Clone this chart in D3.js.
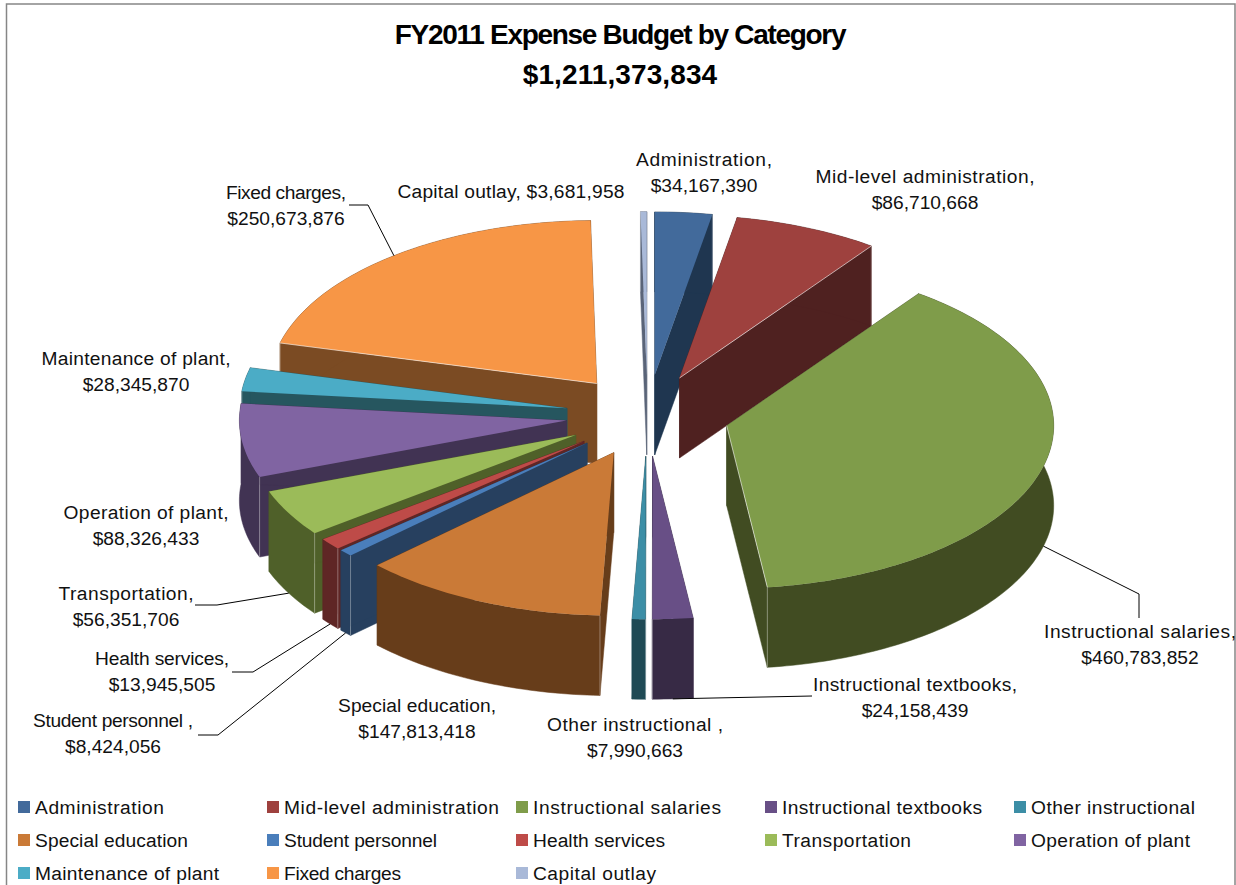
<!DOCTYPE html>
<html>
<head>
<meta charset="utf-8">
<script src="https://cdn.jsdelivr.net/npm/d3@7"></script>
<style>
  html, body { margin: 0; padding: 0; background: #fff; }
  svg { display: block; font-family: "Liberation Sans", Arial, sans-serif; }
</style>
</head>
<body>
<svg id="chart" width="1236" height="885"></svg>
<script>
"use strict";

// Budget data, clockwise from 12 o'clock
const categories = ["Administration", "Mid-level administration", "Instructional salaries",
  "Instructional textbooks", "Other instructional", "Special education", "Student personnel",
  "Health services", "Transportation", "Operation of plant", "Maintenance of plant",
  "Fixed charges", "Capital outlay"];
const amounts = [34167390, 86710668, 460783852, 24158439, 7990663, 147813418, 8424056,
  13945505, 56351706, 88326433, 28345870, 250673876, 3681958];

// Colours: top face and side wall of each slice
const topColors = ["#426a9b", "#9e413e", "#7f9c4a", "#684f86", "#3c8ea6", "#ca7a37", "#4a7ebb",
  "#be4b48", "#9bbb59", "#8064a2", "#4bacc6", "#f79646", "#a9b9d8"];
const wallColors = ["#1f3650", "#4f2120", "#414c22", "#372a45", "#1f4a55", "#673d1a", "#27405f",
  "#5f2625", "#4f6029", "#413353", "#26565f", "#7b4b23", "#5a6478"];

// Pie geometry
const cx = 647.5, cy = 415.5;   // common centre before the slices are pulled out
const rx = 327, ry = 163;       // tilted ellipse
const depth = 80;
const explode = 0.25;
const glintSlices = [1, 2, 11]; // these show a pale line on the front radial edge

const svg = d3.select("#chart");

// Chart frame
svg.append("rect")
  .attr("x", 6.5).attr("y", 4)
  .attr("width", 1228.5).attr("height", 890)
  .attr("fill", "#fff")
  .attr("stroke", "#868686")
  .attr("stroke-width", 1.5);

// Title
svg.append("text")
  .attr("x", 620).attr("y", 44)
  .attr("text-anchor", "middle")
  .style("font-size", "28px").style("font-weight", "bold")
  .style("letter-spacing", "-1.3px")
  .text("FY2011 Expense Budget by Category");
svg.append("text")
  .attr("x", 620).attr("y", 84)
  .attr("text-anchor", "middle")
  .style("font-size", "28px").style("font-weight", "bold")
  .style("letter-spacing", "0.1px")
  .text("$" + d3.format(",")(d3.sum(amounts)));

// Slices keep data order, d3.pie gives the angles
const pie = d3.pie().sort(null).value(d => d.value);
const slices = pie(categories.map((c, i) => ({ name: c, value: amounts[i], index: i })));

slices.forEach(s => {
  s.mid = (s.startAngle + s.endAngle) / 2;
  s.apex = [cx + explode * rx * Math.sin(s.mid), cy - explode * ry * Math.cos(s.mid)];
});

// Point on the rim of a slice's top face
function rim(s, a) {
  return [s.apex[0] + rx * Math.sin(a), s.apex[1] - ry * Math.cos(a)];
}

function rimPoints(s) {
  const n = Math.max(2, Math.ceil((s.endAngle - s.startAngle) / 0.02));
  return d3.range(n + 1).map(i => rim(s, s.startAngle + (s.endAngle - s.startAngle) * i / n));
}

const down = p => [p[0], p[1] + depth];
const line = d3.line();

// Back slices first, so nearer ones cover them
const drawOrder = slices.slice().sort((a, b) => a.apex[1] - b.apex[1]);
const gPie = svg.append("g");

drawOrder.forEach(s => {
  const pts = rimPoints(s);
  const first = pts[0], last = pts[pts.length - 1];
  const wall = wallColors[s.data.index];
  const walls = [
    [s.apex, first, down(first), down(s.apex)],
    [s.apex, last, down(last), down(s.apex)],
    pts.concat(pts.slice().reverse().map(down))
  ];
  walls.forEach(w => {
    gPie.append("path")
      .attr("d", line(w) + "Z")
      .attr("fill", wall)
      .attr("stroke", wall)
      .attr("stroke-width", 0.5);
  });
  gPie.append("path")
    .attr("d", line([s.apex].concat(pts)) + "Z")
    .attr("fill", topColors[s.data.index]);

  // Pale edges: the corner nearest the viewer, radial edge on a few slices
  const near = Math.abs(s.startAngle - Math.PI) < Math.abs(s.endAngle - Math.PI) ? first : last;
  gPie.append("path")
    .attr("d", line([near, down(near)]))
    .attr("stroke", "#fff")
    .attr("stroke-opacity", 0.35)
    .attr("stroke-width", 1);
  if (glintSlices.includes(s.data.index)) {
    gPie.append("path")
      .attr("d", line([s.apex, near]))
      .attr("stroke", "#fff")
      .attr("stroke-opacity", 0.6)
      .attr("stroke-width", 1);
  }
});

// Data labels (two lines each) and where they sit
const labelLines = [
  ["Administration,", "$34,167,390"],
  ["Mid-level administration,", "$86,710,668"],
  ["Instructional salaries,", "$460,783,852"],
  ["Instructional textbooks,", "$24,158,439"],
  ["Other instructional ,", "$7,990,663"],
  ["Special education,", "$147,813,418"],
  ["Student personnel ,", "$8,424,056"],
  ["Health services,", "$13,945,505"],
  ["Transportation,", "$56,351,706"],
  ["Operation of plant,", "$88,326,433"],
  ["Maintenance of plant,", "$28,345,870"],
  ["Fixed charges,", "$250,673,876"],
  ["Capital outlay, $3,681,958"]
];
const labelX = [704, 925, 1140, 915, 635, 417, 113, 162, 126, 146, 136, 286, 511];
const labelY = [166, 183, 638, 691, 731, 712, 727, 665, 600, 519, 365, 199, 198];
const labelWidths = [136, 219, 192, 204, 176, 158, 160, 134, 135, 165, 189, 120, 227];
const labelStep = 26;

labelLines.forEach((lines, i) => {
  lines.forEach((t, j) => {
    const label = svg.append("text")
      .attr("x", labelX[i])
      .attr("y", labelY[i] + j * labelStep)
      .attr("text-anchor", "middle")
      .style("font-size", "19.2px")
      .attr("fill", "#111")
      .text(t);
    if (j === 0) label.attr("textLength", labelWidths[i]);
  });
});

// Leader lines: start on the slice rim, then go to the label
const leaders = [
  { i: 11, low: false, via: [[368, 205], [349, 205]] },
  { i: 2, low: true, via: [[1139, 594], [1139, 618]] },
  { i: 3, low: true, via: [[812, 696]] },
  { i: 8, low: true, via: [[217, 605], [195, 605]] },
  { i: 7, low: true, via: [[253, 672], [232, 672]] },
  { i: 6, low: true, via: [[218, 735], [198, 735]] }
];
leaders.forEach(l => {
  const s = slices[l.i];
  const p = rim(s, s.mid);
  const start = l.low ? down(p) : p;
  svg.append("path")
    .attr("d", line([start].concat(l.via)))
    .attr("fill", "none")
    .attr("stroke", "#000")
    .attr("stroke-width", 1);
});

// Legend
const legendWidths = [129, 215, 188, 200, 164, 153, 153, 132, 129, 159, 184, 117, 123];
const legendColumns = d3.scalePoint().domain(d3.range(5)).range([18, 1014]);
const legendRows = d3.scalePoint().domain(d3.range(3)).range([807, 873]);
const legend = svg.selectAll(".legend")
  .data(categories)
  .enter()
  .append("g")
  .attr("class", "legend")
  .attr("transform", (d, i) => `translate(${legendColumns(i % 5)},${legendRows(Math.floor(i / 5))})`);

legend.append("rect")
  .attr("y", -6).attr("width", 12).attr("height", 12)
  .attr("fill", (d, i) => topColors[i]);

legend.append("text")
  .attr("x", 17).attr("y", 7)
  .attr("textLength", (d, i) => legendWidths[i])
  .style("font-size", "19.2px")
  .attr("fill", "#111")
  .text(d => d);
</script>
</body>
</html>
